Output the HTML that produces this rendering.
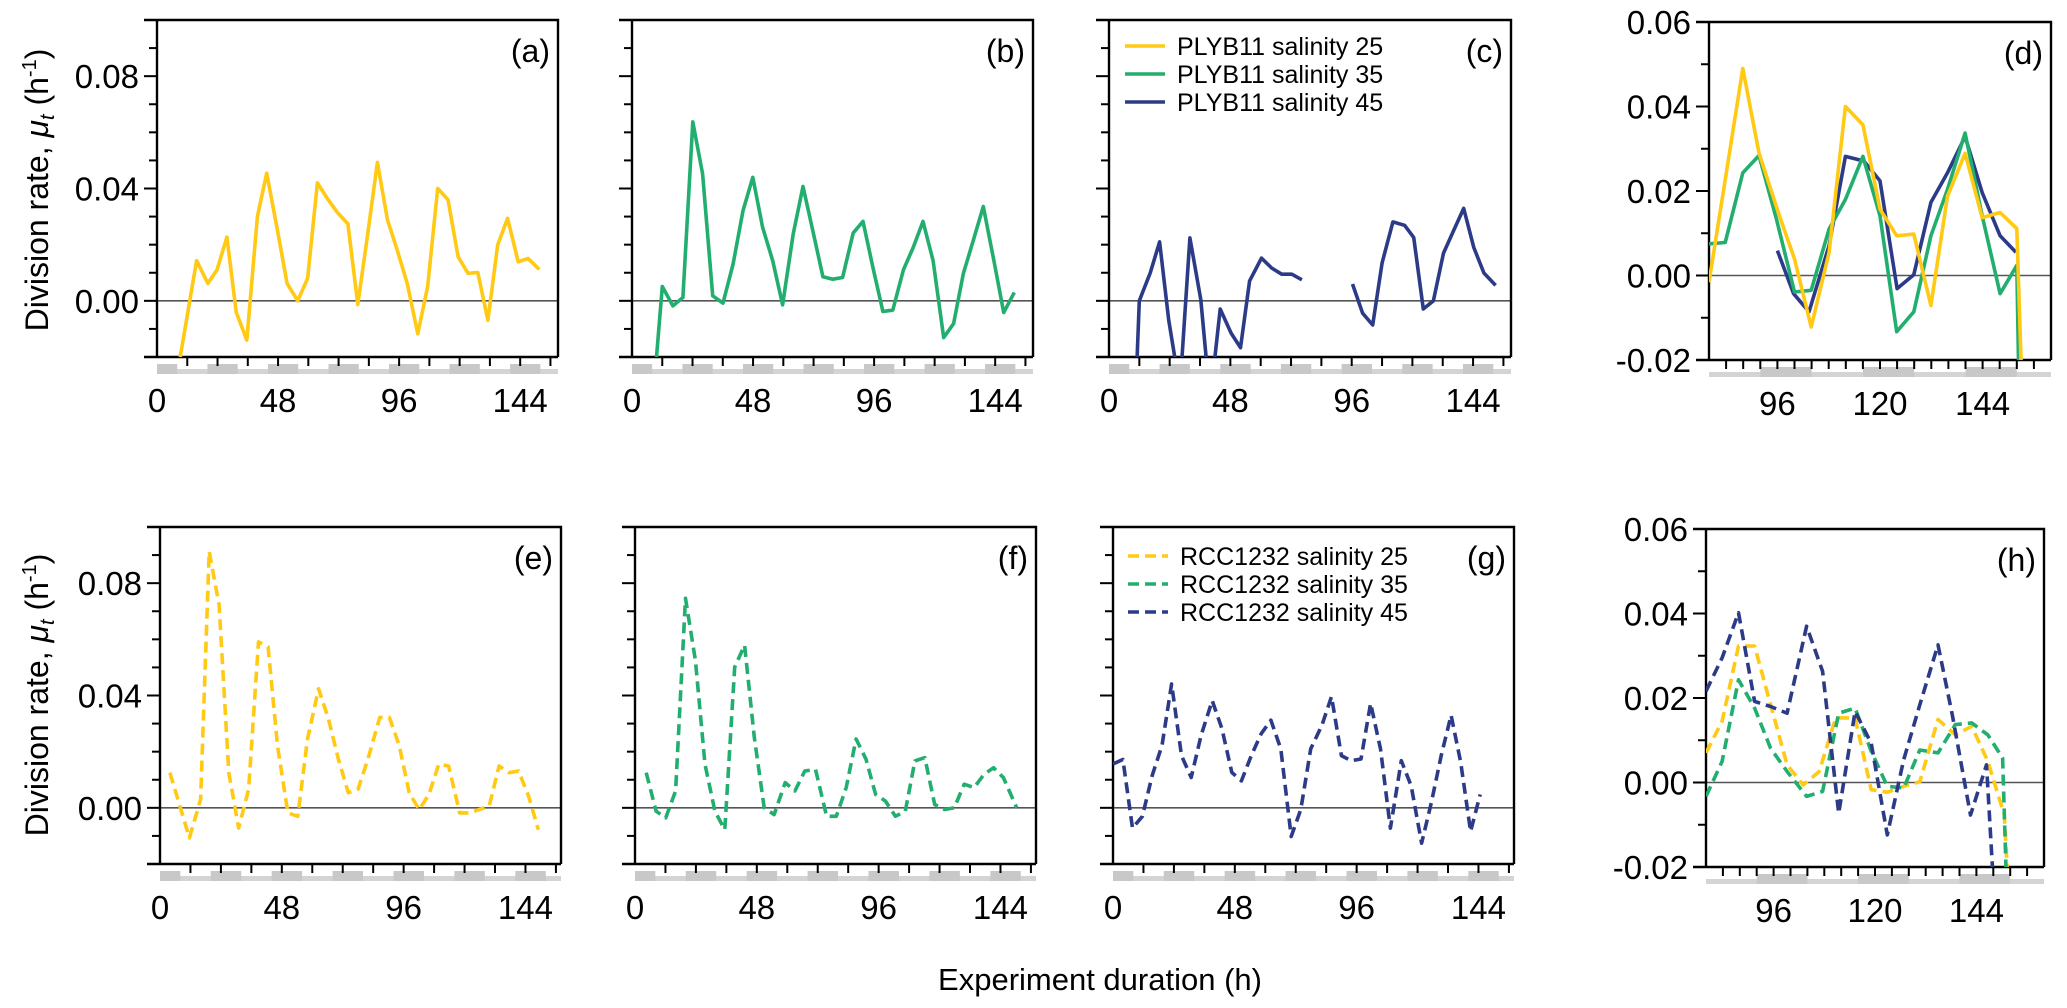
<!DOCTYPE html>
<html><head><meta charset="utf-8"><style>
html,body{margin:0;padding:0;background:#fff;}
svg{display:block;font-family:"Liberation Sans",Arial,sans-serif;}
</style></head><body>
<svg id="fig" width="2067" height="1008" viewBox="0 0 2067 1008" xmlns="http://www.w3.org/2000/svg">
<text transform="translate(48,190) rotate(-90)" text-anchor="middle" font-size="32">Division rate, <tspan font-style="italic">μ</tspan><tspan font-style="italic" font-size="20" dy="6">t</tspan><tspan dy="-6"> (h</tspan><tspan font-size="20" dy="-12">-1</tspan><tspan dy="12">)</tspan></text>
<text transform="translate(48,695) rotate(-90)" text-anchor="middle" font-size="32">Division rate, <tspan font-style="italic">μ</tspan><tspan font-style="italic" font-size="20" dy="6">t</tspan><tspan dy="-6"> (h</tspan><tspan font-size="20" dy="-12">-1</tspan><tspan dy="12">)</tspan></text>
<text x="1100" y="990" text-anchor="middle" font-size="31">Experiment duration (h)</text>
</svg>
<script>
// Panel (a) PLYB11 salinity 25
const aT=[9.2,15.7,20.2,23.8,27.7,31.4,35.6,39.8,43.5,47.6,51.6,55.8,59.7,63.6,67.5,71.5,75.7,79.6,83.5,87.4,91.4,95.3,99.2,103.4,107.3,111.3,115.4,119.4,123.3,127.2,131.2,135.1,139,143.2,147.1,151.6];
const aV=[-0.02,0.0143,0.0062,0.011,0.0227,-0.004,-0.014,0.030,0.0454,0.026,0.0062,0,0.008,0.042,0.0365,0.0315,0.0274,-0.0013,0.0235,0.0493,0.0288,0.018,0.0062,-0.0117,0.005,0.040,0.036,0.0157,0.0098,0.0101,-0.0069,0.0199,0.0294,0.0139,0.0151,0.0112];
// Panel (b) PLYB11 salinity 35
const bT=[9.7,12,16.2,20.2,24.1,28,32,36.1,40.1,44,47.9,51.8,55.8,59.7,63.9,67.8,71.7,75.7,79.6,83.5,87.7,91.6,95.5,99.5,103.4,107.6,111.5,115.4,119.4,123.6,127.5,131.4,135.3,139.3,143.5,147.4,151.6];
const bV=[-0.02,0.0051,-0.0018,0.0012,0.0637,0.0452,0.0018,-0.0008,0.0131,0.0321,0.044,0.0262,0.0143,-0.0014,0.0238,0.0407,0.025,0.0086,0.0077,0.0083,0.0242,0.0283,0.0119,-0.0038,-0.0033,0.011,0.019,0.0283,0.0143,-0.0131,-0.0081,0.0098,0.0214,0.0336,0.0143,-0.0042,0.003];
// Panel (c) PLYB11 salinity 45 (two segments)
const c1T=[10.9,12,16.3,20,23.6,26.9,28.5,32,36.3,38.9,41.3,44,48.3,52,55.6,60.3,64.3,68.3,72.3,76.3];
const c1V=[-0.025,0,0.0099,0.021,-0.0068,-0.025,-0.025,0.0224,0.0004,-0.025,-0.025,-0.0029,-0.0115,-0.0167,0.0071,0.0152,0.0117,0.0095,0.0095,0.0075];
const c2T=[96.3,100.3,104.3,108,112.3,116.9,120.5,124.3,128.3,132.3,136.3,140.3,144.3,148.3,152.9];
const c2V=[0.006,-0.0044,-0.0086,0.0135,0.0281,0.0269,0.0226,-0.0029,0,0.017,0.025,0.0329,0.019,0.0099,0.0055];
// Panel (d) overlay
const dT25=[80,87.9,91.7,96.2,100,103.9,108.1,111.9,116,120,123.9,127.9,131.9,135.8,139.9,143.9,148.1,152,153];
const dV25=[-0.0016,0.049,0.029,0.0149,0.0039,-0.0122,0.0055,0.040,0.0357,0.0157,0.0094,0.0098,-0.0071,0.0188,0.0289,0.0137,0.0149,0.0111,-0.0204];
const dT35=[80,83.8,87.9,91.7,95.8,100,103.9,108.1,111.9,116,120,123.9,127.9,131.9,135.8,139.9,143.9,148.1,152,152.4];
const dV35=[0.0075,0.0078,0.0243,0.0284,0.0133,-0.0039,-0.0035,0.011,0.018,0.0282,0.0141,-0.0133,-0.0086,0.0094,0.0204,0.0337,0.0141,-0.0043,0.0024,-0.0204];
const dT45=[96,99.8,103.4,108.1,111.9,116.2,120,124,127.9,131.9,135.8,139.9,143.9,148.1,151.8];
const dV45=[0.0059,-0.0043,-0.0086,0.0071,0.0282,0.0271,0.0224,-0.0031,0.0002,0.0173,0.0243,0.0329,0.0196,0.0094,0.0055];
// Panel (e) RCC1232 salinity 25
const eT=[3.9,11.6,16,19.4,23.3,27.1,31,34.9,38.8,42.6,46.3,50.4,54.3,58.1,62.5,66.4,70.3,74.2,78,81.9,86.6,90.4,94.3,98.2,102.1,106,109.8,113.7,118.1,122,125.8,129.7,133.6,137.5,141.3,145.2,149.1];
const eV=[0.0125,-0.0107,0.003,0.0913,0.0722,0.0125,-0.0072,0.0066,0.0591,0.0573,0.0221,-0.0018,-0.003,0.0245,0.0424,0.0316,0.0173,0.0054,0.0066,0.0173,0.0322,0.0322,0.0221,0.0054,-0.0006,0.0048,0.0155,0.0149,-0.0018,-0.0018,-0.0006,0.0006,0.0149,0.0125,0.0131,0.0042,-0.0078];
// Panel (f) RCC1232 salinity 35
const fT=[4.4,8.3,12.1,16,19.9,23.8,27.6,31.5,35.4,39.3,43.2,47,50.9,54.8,59.2,63,66.9,71.1,75.5,79.3,83.2,87.1,91,94.8,98.7,102.6,106.5,110.3,114.2,118.1,122,125.8,129.7,133.6,137.5,141.3,145.2,150.4];
const fV=[0.0125,-0.0012,-0.0036,0.006,0.0746,0.0525,0.0155,-0.0012,-0.0078,0.0501,0.0579,0.0251,0,-0.0024,0.009,0.006,0.0131,0.0137,-0.003,-0.003,0.0072,0.0245,0.0173,0.0048,0.0024,-0.003,-0.0012,0.0167,0.0179,0.0012,-0.0006,0,0.0084,0.0072,0.0119,0.0143,0.0107,0];
// Panel (g) RCC1232 salinity 45
const gT=[0,3.9,7.7,11.6,15.4,19.3,23.1,27,30.8,34.7,39.1,42.9,46.8,50.6,54.5,58.4,62.2,66.1,70.2,74,77.9,82.3,86.1,90,93.8,97.7,101.5,105.4,109.3,113.6,117.5,121.6,125.4,129.3,133.2,137,140.9,144.7];
const gV=[0.0156,0.0172,-0.0072,-0.003,0.0114,0.0222,0.0441,0.0186,0.0108,0.0258,0.0382,0.0282,0.0126,0.0096,0.0186,0.0264,0.0312,0.021,-0.0102,-0.0006,0.021,0.0294,0.0396,0.0186,0.0168,0.0174,0.0372,0.021,-0.0072,0.0168,0.0078,-0.0126,0.0018,0.0186,0.033,0.0162,-0.0084,0.0048];
// Panel (h) overlay
const hT45=[80,83.8,87.7,91.5,95.3,99.2,103.8,107.6,111.4,115.3,119.1,122.9,126.8,130.6,134.9,138.3,142.6,146.4,147.8];
const hV45=[0.0216,0.0295,0.0402,0.0192,0.018,0.0164,0.037,0.0263,-0.0073,0.0168,0.0093,-0.0124,0.0054,0.0184,0.0326,0.016,-0.0077,0.0042,-0.0203];
const hT25=[80,83.8,87.7,91.5,95.3,99.2,103,106.8,110.7,115.3,119.1,122.9,126.8,130.6,134.9,139,142.9,146.7,150.6,151.3];
const hV25=[0.007,0.0145,0.0323,0.0323,0.0184,0.0042,-0.0006,0.0026,0.0153,0.0153,-0.0017,-0.0023,-0.0009,0.0002,0.0149,0.0113,0.0133,0.005,-0.0077,-0.0203];
const hT35=[80,83.8,87.7,91.5,95.3,99.2,103.8,107.6,111.4,115.3,119.1,122.9,126.8,130.6,134.9,139,142.9,146.7,150.2,151];
const hV35=[-0.0033,0.005,0.0243,0.0176,0.0081,0.0026,-0.0033,-0.0021,0.0164,0.0176,0.0074,-0.0009,-0.0013,0.0077,0.007,0.0137,0.0141,0.0113,0.0058,-0.0203];
const yTicksMain=[0.00,0.04,0.08];
const yTicksZoom=[-0.02,0.00,0.02,0.04,0.06];
const xTicksMain=[0,48,96,144];
const xTicksZoom=[96,120,144];
const legendTop=["PLYB11 salinity 25","PLYB11 salinity 35","PLYB11 salinity 45"];
const legendBottom=["RCC1232 salinity 25","RCC1232 salinity 35","RCC1232 salinity 45"];

const Y25='#FFC914', G35='#22AE6E', B45='#2C3B87';
const NS='http://www.w3.org/2000/svg';
const svg=document.getElementById('fig');
function mk(tag,attrs,parent){const e=document.createElementNS(NS,tag);for(const k in attrs)e.setAttribute(k,attrs[k]);(parent||svg).appendChild(e);return e;}

function panel(p){
  const sx=v=>p.x0+(v-p.xmin)/(p.xmax-p.xmin)*(p.x1-p.x0);
  const sy=v=>p.y1-(v-p.ymin)/(p.ymax-p.ymin)*(p.y1-p.y0);
  const g=mk('g',{});
  
  
  const lb=mk('rect',{x:p.x0,y:p.y1+12,width:p.x1-p.x0,height:5,fill:'#d4d4d4'},g);
  
  
  for(let s=-4;s<p.xmax;s+=24){
    const a=Math.max(s,p.xmin),b=Math.min(s+12,p.xmax);
    if(b<=a)continue;
    const r=mk('rect',{x:sx(a),y:p.y1+7,width:sx(b)-sx(a),height:10,fill:'#c8c8c8'},g);
    
    
  }
  const z=mk('line',{x1:p.x0,x2:p.x1,y1:sy(0),y2:sy(0),stroke:'#555','stroke-width':1.6},g);
  
  
  const fr=mk('path',{d:`M${p.x0-13} ${p.y0}H${p.x1}V${p.y1}M${p.x0} ${p.y0}V${p.y1}M${p.x0-13} ${p.y1}H${p.x1}`,fill:'none',stroke:'#000','stroke-width':2.4},g);
  
  
  for(let v=p.ymin;v<=p.ymax+1e-9;v+=0.01){
    const major=p.majors.some(m=>Math.abs(m-v)<1e-6);
    const t=mk('line',{x1:p.x0-(major?13:8),x2:p.x0,y1:sy(v),y2:sy(v),stroke:'#000','stroke-width':2},g);
    
    
  }
  if(p.ylabels){
    p.ylabels.forEach(v=>{
      const t=mk('text',{x:p.x0-18,y:sy(v)+12,'text-anchor':'end','font-size':33},g);
      
      
      t.textContent=v.toFixed(2);
    });
  }
  for(let h=p.xmin+p.xstep;h<p.xmax;h+=p.xstep){
    const t=mk('line',{x1:sx(h),x2:sx(h),y1:p.y1,y2:p.y1+9,stroke:'#000','stroke-width':2},g);
    
    
  }
  p.xlabels.forEach(h=>{
    const t=mk('text',{x:sx(h),y:p.y1+55,'text-anchor':'middle','font-size':33},g);
    
    
    t.textContent=h;
  });
  const cp=mk('clipPath',{id:'clip-'+p.id},g);
  mk('rect',{x:p.x0,y:p.y0,width:p.x1-p.x0,height:p.y1-p.y0},cp);
  p.series.forEach(s=>{
    const d=s.t.map((h,i)=>(i?'L':'M')+sx(h).toFixed(1)+' '+sy(s.v[i]).toFixed(1)).join('');
    const path=mk('path',{d:d,fill:'none',stroke:s.c,'stroke-width':3.6,'stroke-linejoin':'round','clip-path':`url(#clip-${p.id})`},g);
    if(p.dash)path.setAttribute('stroke-dasharray','11 6');
    
    
  });
  const lab=mk('text',{x:p.x1-8,y:p.y0+42,'text-anchor':'end','font-size':32},g);
  
  
  lab.textContent='('+p.id+')';
}
const TY0=20,TY1=357,BY0=527,BY1=864;
const mainMaj=[-0.02,0,0.04,0.08,0.1], zoomMaj=[-0.02,0,0.02,0.04,0.06];
panel({id:'a',x0:157,x1:558,y0:TY0,y1:TY1,xmin:0,xmax:159,ymin:-0.02,ymax:0.10,xstep:12,majors:mainMaj,ylabels:yTicksMain,xlabels:xTicksMain,series:[{t:aT,v:aV,c:Y25,name:'line-plyb11-s25'}]});
panel({id:'b',x0:632,x1:1033,y0:TY0,y1:TY1,xmin:0,xmax:159,ymin:-0.02,ymax:0.10,xstep:12,majors:mainMaj,xlabels:xTicksMain,series:[{t:bT,v:bV,c:G35,name:'line-plyb11-s35'}]});
panel({id:'c',x0:1109,x1:1511,y0:TY0,y1:TY1,xmin:0,xmax:159,ymin:-0.02,ymax:0.10,xstep:12,majors:mainMaj,xlabels:xTicksMain,series:[{t:c1T,v:c1V,c:B45,name:'line-plyb11-s45-part1'},{t:c2T,v:c2V,c:B45,name:'line-plyb11-s45-part2'}]});
panel({id:'d',x0:1709,x1:2051,y0:TY0+2,y1:TY1+3,xmin:80,xmax:160,ymin:-0.02,ymax:0.06,xstep:4,majors:zoomMaj,ylabels:yTicksZoom,xlabels:xTicksZoom,series:[{t:dT45,v:dV45,c:B45,name:'line-d-s45'},{t:dT35,v:dV35,c:G35,name:'line-d-s35'},{t:dT25,v:dV25,c:Y25,name:'line-d-s25'}]});
panel({id:'e',x0:160,x1:561,y0:BY0,y1:BY1,xmin:0,xmax:158,ymin:-0.02,ymax:0.10,xstep:12,majors:mainMaj,ylabels:yTicksMain,xlabels:xTicksMain,dash:true,series:[{t:eT,v:eV,c:Y25,name:'line-rcc1232-s25'}]});
panel({id:'f',x0:635,x1:1036,y0:BY0,y1:BY1,xmin:0,xmax:158,ymin:-0.02,ymax:0.10,xstep:12,majors:mainMaj,xlabels:xTicksMain,dash:true,series:[{t:fT,v:fV,c:G35,name:'line-rcc1232-s35'}]});
panel({id:'g',x0:1113,x1:1514,y0:BY0,y1:BY1,xmin:0,xmax:158,ymin:-0.02,ymax:0.10,xstep:12,majors:mainMaj,xlabels:xTicksMain,dash:true,series:[{t:gT,v:gV,c:B45,name:'line-rcc1232-s45'}]});
panel({id:'h',x0:1706,x1:2044,y0:BY0+2,y1:BY1+3,xmin:80,xmax:160,ymin:-0.02,ymax:0.06,xstep:4,majors:zoomMaj,ylabels:yTicksZoom,xlabels:xTicksZoom,dash:true,series:[{t:hT25,v:hV25,c:Y25,name:'line-h-s25'},{t:hT35,v:hV35,c:G35,name:'line-h-s35'},{t:hT45,v:hV45,c:B45,name:'line-h-s45'}]});

function legend(labels,x,y0,dy,dash){
  const cols=[Y25,G35,B45];
  labels.forEach((txt,i)=>{
    const y=y0+i*dy;
    const g=mk('g',{});
    
    
    const l=mk('line',{x1:x,x2:x+40,y1:y,y2:y,stroke:cols[i],'stroke-width':3.6},g);
    if(dash)l.setAttribute('stroke-dasharray','11 6');
    
    
    const t=mk('text',{x:x+52,y:y+9,'font-size':25},g);
    
    
    t.textContent=txt;
  });
}
legend(legendTop,1125,46,28,false);
legend(legendBottom,1128,556,28,true);
</script>
</body></html>
